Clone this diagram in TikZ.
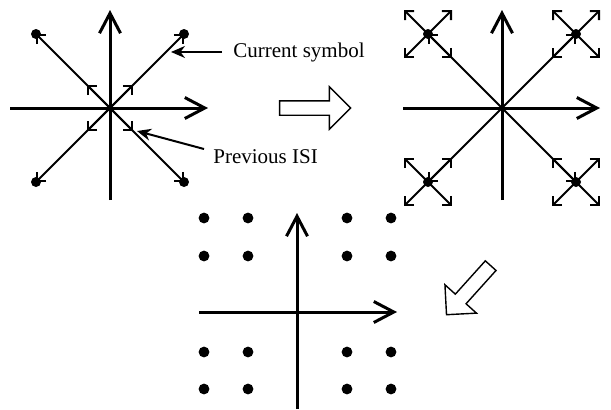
\documentclass[tikz,border=0pt]{standalone}
\usepackage{fontspec}
\setmainfont{Liberation Serif}
\usetikzlibrary{arrows.meta,shapes.arrows}
\begin{document}
\begin{tikzpicture}
[x=0.5pt,y=-0.5pt,font=\fontsize{10.5}{12}\selectfont,
  axline/.style={line width=1.5pt,-{Straight Barb[length=10pt,width=10.5pt]}},
  vec/.style={line width=1.05pt,-{Straight Barb[length=3.2pt,width=6.4pt]}},
  sym/.style={circle,fill,inner sep=0pt,minimum size=5pt},
  pointer/.style={line width=1pt,-{Stealth[length=7pt,width=6pt]}},
  txt/.style={anchor=base west,inner sep=0pt},
  bigarrow/.style={draw,line width=0.7pt,single arrow,inner xsep=0pt,inner ysep=3.25pt,
     single arrow head extend=7pt,single arrow tip angle=90,minimum width=20.5pt}]
  \useasboundingbox (0,0) rectangle (611,409);
  % symbol + previous ISI
  \coordinate (oA) at (110,108);
  \coordinate (yA0) at (110,200); \coordinate (yA1) at (110,10);
  \coordinate (xA0) at (10,108);  \coordinate (xA1) at (208,108);
  \draw[axline] (yA0) -- (yA1);
  \draw[axline] (xA0) -- (xA1);
  \foreach \sx/\sy/\n in {-1/-1/nw,1/-1/ne,-1/1/sw,1/1/se}{
    \node[sym] (a\n) at ([shift={(\sx*74,\sy*74)}]oA) {};
    \coordinate (m\n) at ([shift={(\sx*23,\sy*23)}]oA);
    \draw[vec] (oA) -- (a\n.center);
    \draw[vec] (oA) -- (m\n);
  }
  \node[txt] (cur) at (233,57) {Current symbol};
  \coordinate (curtip) at (171,51);
  \draw[pointer] ([xshift=-5.5pt]cur.west) -- (curtip |- cur.west);
  \node[txt] (prev) at (213,163) {Previous ISI};
  \coordinate (isitail) at (204,149);
  \draw[pointer] (isitail) -- ([xshift=2pt]mse);
  % step 1
  \node[bigarrow,minimum height=35.5pt] (goright) at (311.5,108) {};
  % ISI spread round each symbol
  \coordinate (oB) at (502,108);
  \coordinate (yB0) at (502,200); \coordinate (yB1) at (502,10);
  \coordinate (xB0) at (403,108); \coordinate (xB1) at (600,108);
  \draw[axline] (yB0) -- (yB1);
  \draw[axline] (xB0) -- (xB1);
  \foreach \sx/\sy/\n in {-1/-1/nw,1/-1/ne,-1/1/sw,1/1/se}{
    \node[sym] (b\n) at ([shift={(\sx*74,\sy*74)}]oB) {};
    \draw[vec] (oB) -- (b\n.center);
    \foreach \tx/\ty/\k in {-1/-1/1,1/-1/2,-1/1/3,1/1/4}{
      \coordinate (b\n\k) at ([shift={(\tx*24,\ty*24)}]b\n.center);
      \draw[vec] (b\n.center) -- (b\n\k);
    }
  }
  % step 2
  \node[bigarrow,minimum height=33pt,rotate=228] (godown) at (471,287.5) {};
  % resulting constellation
  \coordinate (oC) at (297,312);
  \coordinate (yC0) at (297,409); \coordinate (yC1) at (297,213);
  \coordinate (xC0) at (199,312); \coordinate (xC1) at (397,312);
  \draw[axline] (yC0) -- (yC1);
  \draw[axline] (xC0) -- (xC1);
  \foreach \x in {204,248,347,391}
    \foreach \y in {218,256,352,389}
      \node[sym,minimum size=5.4pt] (c\x\y) at (\x,\y) {};
\end{tikzpicture}
\end{document}
